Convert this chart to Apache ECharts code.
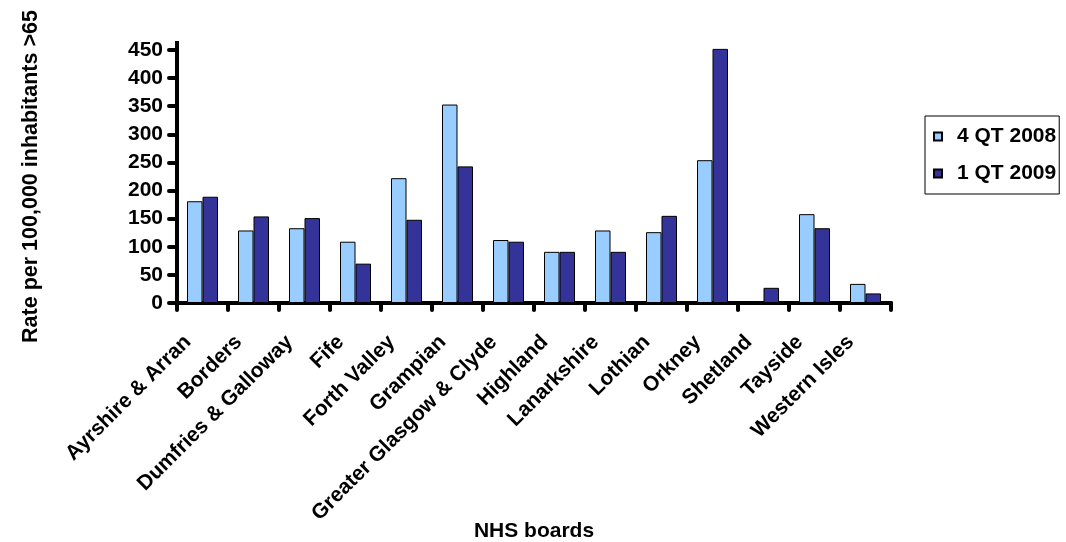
<!DOCTYPE html>
<html>
<head>
<meta charset="utf-8">
<title>NHS boards – rate per 100,000 inhabitants over 65</title>
<script src="https://cdn.jsdelivr.net/npm/echarts@6/dist/echarts.min.js"></script>
<style>
  html, body { margin: 0; padding: 0; background: #ffffff; }
  #chart { width: 1066px; height: 542px; }
</style>
</head>
<body>
<div id="chart"></div>
<script>
// NHS boards shown along the category axis
const boards = [
  'Ayrshire & Arran', 'Borders', 'Dumfries & Galloway', 'Fife', 'Forth Valley',
  'Grampian', 'Greater Glasgow & Clyde', 'Highland', 'Lanarkshire', 'Lothian',
  'Orkney', 'Shetland', 'Tayside', 'Western Isles'
];

// Rate per 100,000 inhabitants >65, by quarter
const qt4_2008 = [181, 129, 133, 109, 222, 353, 112, 91, 129, 126, 254, 0, 158, 34];
const qt1_2009 = [189, 154, 151, 70, 148, 243, 109, 91, 91, 155, 452, 27, 133, 17];

const seriesNames = ['4 QT 2008', '1 QT 2009'];
const yTicks = { min: 0, max: 450, interval: 50 };

const FONT = '"Liberation Sans", Arial, sans-serif';

const chart = echarts.init(document.getElementById('chart'), null, { renderer: 'canvas' });

const barStyle = (color) => ({
  color: color,
  borderColor: '#000000',
  borderWidth: 1
});

chart.setOption({
  backgroundColor: '#ffffff',
  animation: false,
  textStyle: { fontFamily: FONT },
  // fixed plot box; labels and titles are placed outside it by hand
  grid: { left: 177, right: 175, top: 50, bottom: 239, containLabel: false, outerBoundsMode: 'none' },
  legend: {
    orient: 'vertical',
    left: 925,
    top: 116,
    padding: [10, 3, 10, 8],
    itemGap: 16,
    itemWidth: 8,
    itemHeight: 8,
    borderColor: '#000000',
    borderWidth: 1,
    icon: 'rect',
    data: seriesNames,
    textStyle: {
      fontFamily: FONT, fontWeight: 'bold', fontSize: 21, color: '#000000',
      padding: [0, 0, 0, 10]
    }
  },
  xAxis: {
    type: 'category',
    data: boards,
    name: 'NHS boards',
    nameLocation: 'middle',
    nameGap: 218,
    nameMoveOverlap: false,
    nameTextStyle: { fontFamily: FONT, fontWeight: 'bold', fontSize: 21, color: '#000000' },
    axisLine: { lineStyle: { color: '#000000', width: 4, cap: 'round' } },
    axisTick: { show: true, alignWithLabel: false, length: 7, lineStyle: { color: '#000000', width: 4, cap: 'round' } },
    axisLabel: {
      interval: 0,
      rotate: 45,
      margin: 21,
      padding: [0, 21, 0, 0],
      fontFamily: FONT, fontWeight: 'bold', fontSize: 21, color: '#000000'
    },
    splitLine: { show: false }
  },
  yAxis: {
    type: 'value',
    min: yTicks.min,
    max: yTicks.max,
    interval: yTicks.interval,
    name: 'Rate per 100,000 inhabitants >65',
    nameLocation: 'middle',
    nameRotate: 90,
    nameGap: 135,
    nameMoveOverlap: false,
    nameTextStyle: { fontFamily: FONT, fontWeight: 'bold', fontSize: 21.5, color: '#000000' },
    axisLine: {
      show: true,
      symbol: ['none', 'rect'],
      symbolSize: [4, 18],
      lineStyle: { color: '#000000', width: 4, cap: 'round' }
    },
    axisTick: { show: true, length: 8, lineStyle: { color: '#000000', width: 4, cap: 'round' } },
    axisLabel: { margin: 14, fontFamily: FONT, fontWeight: 'bold', fontSize: 21, color: '#000000' },
    splitLine: { show: false }
  },
  series: [
    {
      name: seriesNames[0],
      type: 'bar',
      data: qt4_2008,
      barWidth: 15.5,
      barGap: '0%',
      clip: false,
      itemStyle: barStyle('#99CCFF')
    },
    {
      name: seriesNames[1],
      type: 'bar',
      data: qt1_2009,
      barWidth: 15.5,
      barGap: '0%',
      clip: false,
      itemStyle: barStyle('#333399')
    }
  ]
});
</script>
</body>
</html>
